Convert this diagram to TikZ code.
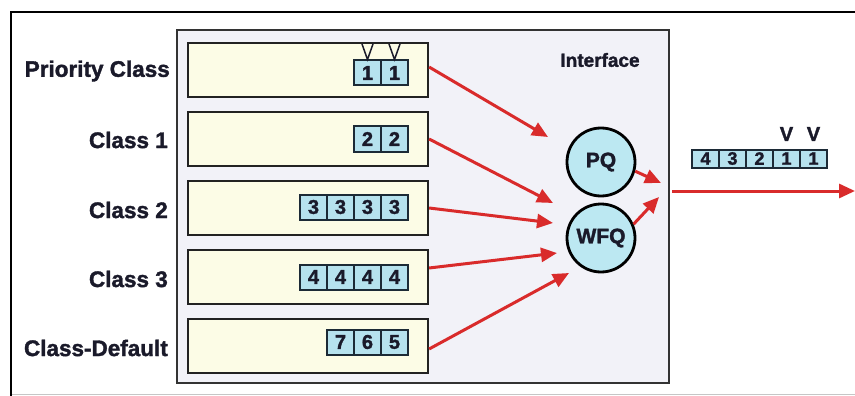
\documentclass[tikz,border=0pt]{standalone}
\usepackage{fontspec}
\setmainfont{Liberation Sans}[BoldFeatures={FakeBold=1.6}]
\usetikzlibrary{arrows.meta,calc}
\definecolor{txt}{HTML}{1A1A2A}
\definecolor{qborder}{HTML}{222222}
\definecolor{qfill}{HTML}{FCFCE6}
\definecolor{pborder}{HTML}{1C2A36}
\definecolor{pfill}{HTML}{B6E2EE}
\definecolor{cfill}{HTML}{BCE8F2}
\definecolor{ifborder}{HTML}{333333}
\definecolor{iffill}{HTML}{F2F2F8}
\definecolor{ared}{HTML}{D92B2B}
\begin{document}
\begin{tikzpicture}[x=1pt,y=-1pt,
  lbl/.style={anchor=east,font=\fontsize{22.5}{24}\selectfont\bfseries,text=txt,inner sep=0pt},
  queue/.style={draw=qborder,fill=qfill,line width=2.2pt,minimum width=240pt,minimum height=54pt,inner sep=0pt},
  pkt/.style={draw=pborder,fill=pfill,line width=2pt,minimum width=27pt,minimum height=25pt,inner sep=0pt,font=\fontsize{20}{20}\selectfont\bfseries,text=txt},
  opkt/.style={pkt,minimum height=18pt,font=\fontsize{18}{18}\selectfont\bfseries},
  sched/.style={circle,draw=black,fill=cfill,line width=2.8pt,minimum size=68pt,inner sep=0pt,font=\fontsize{21}{21}\selectfont\bfseries,text=txt},
  flow/.style={draw=ared,line width=3pt,-{Triangle[length=16pt,width=14pt]}},
  vmark/.style={font=\fontsize{20}{20}\selectfont\bfseries,text=txt,inner sep=0pt}]
\useasboundingbox (0,0) rectangle (855,396);
\fill[white] (0,0) rectangle (855,396);
% outer frame
\draw[gray!45,line width=1pt] (11,394) -- (855,394);
\draw[black,line width=2.5pt] (855,12) -- (11,12) -- (11,396);
% interface box
\node[draw=ifborder,fill=iffill,line width=2pt,minimum width=492pt,minimum height=353pt,inner sep=0pt] (iface) at (423,206.5) {};
\node[font=\fontsize{19}{22}\selectfont\bfseries,text=txt,inner sep=0pt] (iftext) at (600,60) {Interface};
% queues
\node[queue] (q0) at (308,70) {};
\node[queue] (q1) at (308,139) {};
\node[queue] (q2) at (308,208) {};
\node[queue] (q3) at (308,277) {};
\node[queue] (q4) at (308,346) {};
% labels
\node[lbl] (l0) at (170,71) {Priority Class};
\node[lbl] (l1) at (168,140) {Class 1};
\node[lbl] (l2) at (168,210) {Class 2};
\node[lbl] (l3) at (168,279) {Class 3};
\node[lbl] (l4) at (168,348) {Class-Default};
% packets
\node[pkt] (p0a) at (367.5,73) {1};
\node[pkt] (p0b) at (394.5,73) {1};
\node[pkt] (p1a) at (367.5,139) {2};
\node[pkt] (p1b) at (394.5,139) {2};
\node[pkt] (p2a) at (313.5,207) {3};
\node[pkt] (p2b) at (340.5,207) {3};
\node[pkt] (p2c) at (367.5,207) {3};
\node[pkt] (p2d) at (394.5,207) {3};
\node[pkt] (p3a) at (313.5,277) {4};
\node[pkt] (p3b) at (340.5,277) {4};
\node[pkt] (p3c) at (367.5,277) {4};
\node[pkt] (p3d) at (394.5,277) {4};
\node[pkt] (p4a) at (340.5,342) {7};
\node[pkt] (p4b) at (367.5,342) {6};
\node[pkt] (p4c) at (394.5,342) {5};
% V marks on priority packets
\draw[txt,line width=1.5pt] (362,44) -- (367.5,59.5) -- (373,44);
\draw[txt,line width=1.5pt] (389,44) -- (394.5,59.5) -- (400,44);
% schedulers
\node[sched] (pq) at (601,162) {PQ};
\node[sched] (wfq) at (601,238) {WFQ};
% arrow targets
\coordinate (t0) at (548,137);
\coordinate (t1) at (553,203);
\coordinate (t2) at (553,223);
\coordinate (t3) at (557,253);
\coordinate (t4) at (569,273);
\coordinate (tp) at (661,183);
\coordinate (tw) at (659,197);
\coordinate (os) at (672,191);
\coordinate (oe) at (855,191);
% arrows
\draw[flow] ([yshift=3pt]q0.east) -- (t0);
\draw[flow] (q1.east) -- (t1);
\draw[flow] (q2.east) -- (t2);
\draw[flow] ([yshift=9pt]q3.east) -- (t3);
\draw[flow] ([yshift=-3pt]q4.east) -- (t4);
\draw[flow] (pq.-15) -- (tp);
\draw[flow] (wfq.23) -- (tw);
\draw[flow] (os) -- (oe);
% output packets
\node[opkt] (o1) at (705.5,158.5) {4};
\node[opkt] (o2) at (732.5,158.5) {3};
\node[opkt] (o3) at (759.5,158.5) {2};
\node[opkt] (o4) at (786.5,158.5) {1};
\node[opkt] (o5) at (813.5,158.5) {1};
\node[vmark] (v1) at (786.5,134) {V};
\node[vmark] (v2) at (813.5,134) {V};
\end{tikzpicture}
\end{document}
